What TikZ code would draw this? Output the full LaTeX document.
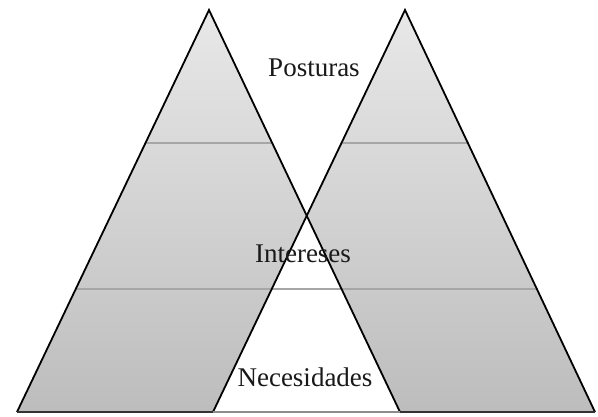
\documentclass[tikz,border=0pt]{standalone}
\usepackage{fontspec}
\setmainfont{Liberation Serif}
\usetikzlibrary{intersections}
\begin{document}
\begin{tikzpicture}[x=1pt,y=-1pt,
  edge/.style={black,line width=1.8pt},
  level/.style={draw=black!35,line width=1.3pt},
  lbl/.style={font=\fontsize{27}{30}\selectfont,text=black!90,inner sep=1pt},
  tri/.style={top color=black!9,bottom color=black!26}]
\useasboundingbox (0,0) rectangle (598,416);
% corner points
\coordinate (LA) at (209,10);
\coordinate (LL) at (17,412);
\coordinate (LR) at (400,412);
\coordinate (RA) at (405,10);
\coordinate (RL) at (213,412);
\coordinate (RR) at (595,412);
% shaded triangles
\shade[tri] (LA) -- (LL) -- (LR) -- cycle;
\shade[tri] (RA) -- (RL) -- (RR) -- cycle;
% overlap is white
\path[name path=lin] (LA) -- (LR);
\path[name path=rin] (RA) -- (RL);
\path[name intersections={of=lin and rin,by=X}];
\fill[white] (X) -- (RL) -- (LR) -- cycle;
% level lines
\coordinate (a1) at (145.5,143); \coordinate (a2) at (272.5,143);
\coordinate (a3) at (341.5,143); \coordinate (a4) at (468.5,143);
\coordinate (b1) at (76,289); \coordinate (b2) at (538,289);
\draw[level] (a1) -- (a2);
\draw[level] (a3) -- (a4);
\draw[level] (b1) -- (b2);
% edges
\draw[edge] (LL) -- (LA) -- (LR);
\draw[edge] (RL) -- (RA) -- (RR);
\draw[black!80,line width=2.6pt] (LL) -- (RL);
\draw[black!80,line width=2.6pt] (LR) -- (RR);
\draw[black!45,line width=2.6pt] (RL) -- (LR);
% labels
\node[lbl] (post) at (314,68) {Posturas};
\node[lbl] (inter) at (303,254) {Intereses};
\node[lbl] (nec) at (305,377) {Necesidades};
\end{tikzpicture}
\end{document}
